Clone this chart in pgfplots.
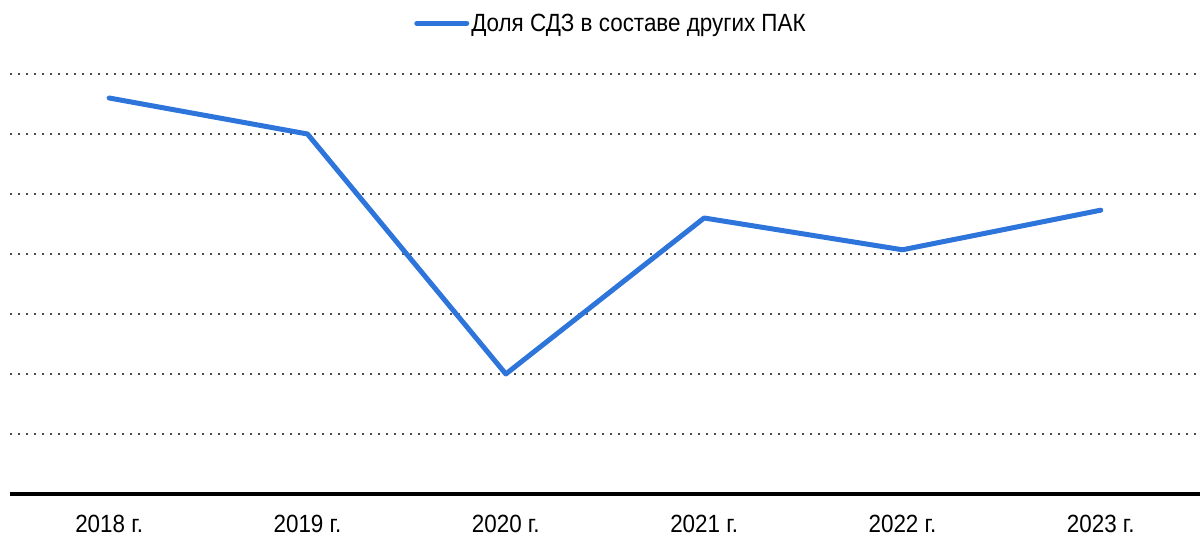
\documentclass[border=0pt]{standalone}
\usepackage{pgfplots}
\pgfplotsset{compat=1.18}
\usepackage{fontspec}
\setmainfont{Liberation Sans}[FakeStretch=0.9]
\definecolor{lineblue}{HTML}{2E75DB}
\begin{document}
\begin{tikzpicture}[x=1bp,y=1bp]
\path[use as bounding box] (0,0) rectangle (1200,539);
\begin{axis}[
  at={(10bp,45bp)}, anchor=south west,
  scale only axis, width=1190bp, height=420bp,
  xmin=-0.5, xmax=5.5, ymin=0, ymax=7,
  axis x line*=bottom, axis y line*=left,
  y axis line style={draw=none},
  x axis line style={line width=4bp, black, -},
  xtick=data, xticklabels={2018 г.,2019 г.,2020 г.,2021 г.,2022 г.,2023 г.},
  xtick style={draw=none}, ytick style={draw=none},
  xticklabel style={font=\fontsize{25}{30}\selectfont, yshift=-18bp},
  ytick={1,2,3,4,5,6,7},
  ymajorgrids, yticklabels={},
  major grid style={black!70, line width=2bp, dash pattern=on 2bp off 6bp},
  clip=false,
  legend style={at={(0.505,1.0)}, anchor=south, yshift=37bp, draw=none, fill=none,
    font=\fontsize{25}{30}\selectfont},
  legend cell align=left,
  legend image code/.code={\draw[#1, line width=5bp, line cap=round] (0bp,0bp) -- (50bp,0bp);},
]
\addplot[lineblue, line width=5bp, line cap=round, line join=round, mark=none]
  coordinates {(0,6.6) (1,6.0) (2,2.0) (3,4.6) (4,4.07) (5,4.73)};
\addlegendentry{Доля СДЗ в составе других ПАК}
\end{axis}
\end{tikzpicture}
\end{document}
